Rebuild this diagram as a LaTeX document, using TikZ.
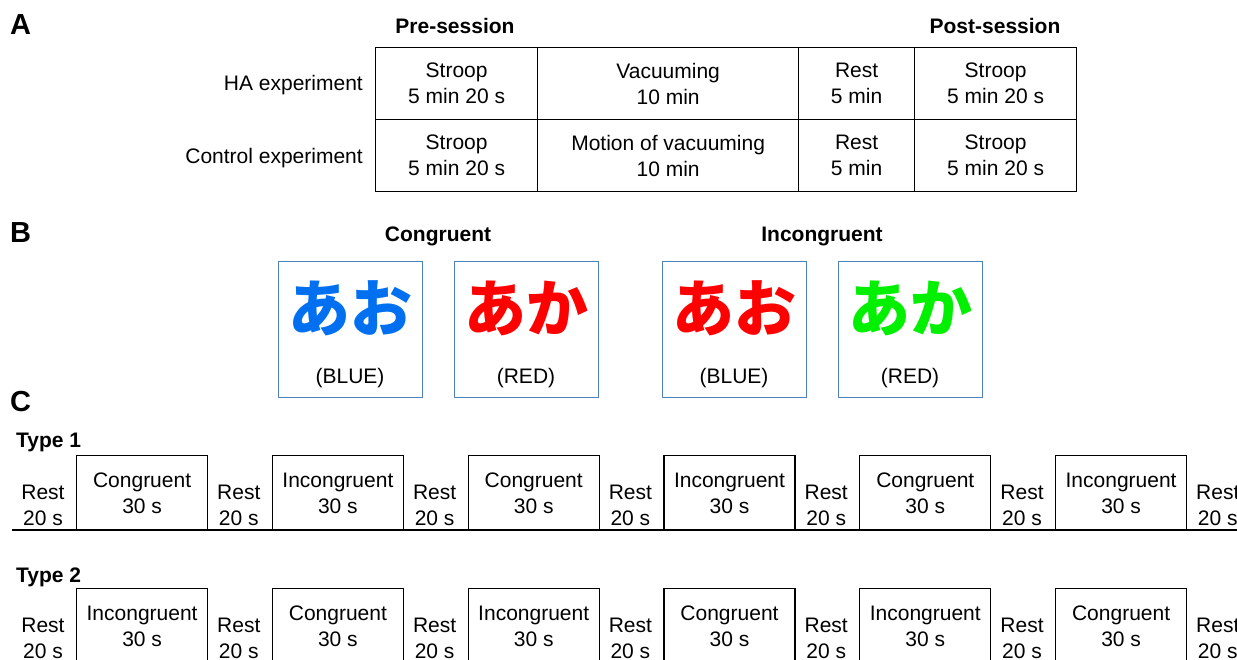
\documentclass[tikz,border=0pt]{standalone}
\usepackage{fontspec}
\setmainfont{Liberation Sans}
\newfontfamily\cjk{Noto Sans CJK JP}
\definecolor{boxblue}{RGB}{79,129,189}
\definecolor{jpblue}{RGB}{0,112,240}
\definecolor{jpred}{RGB}{255,0,0}
\definecolor{jpgreen}{RGB}{0,240,0}
\begin{document}
\begin{tikzpicture}[x=1pt,y=-1pt,
  every node/.style={font=\fontsize{21}{26}\selectfont, inner sep=0pt},
  panel/.style={font=\fontsize{29}{30}\selectfont\bfseries, anchor=base west},
  heading/.style={font=\fontsize{21}{26}\selectfont\bfseries, anchor=base},
  cell/.style={draw, line width=1.3pt, minimum width=#1, minimum height=72, anchor=north west, align=center},
  stimbox/.style={draw=boxblue, line width=1pt, minimum width=144, minimum height=136, anchor=north west},
  jp/.style={font=\fontsize{62}{70}\cjk\bfseries, anchor=base},
  block/.style={draw, line width=1.2pt, minimum width=131, minimum height=75, anchor=north west, align=center},
  restlbl/.style={align=center}
]
\clip (0,0) rectangle (1237,660);
% ---------- Panel A ----------
\node[panel] (lA) at (10,35) {A};
\node[heading] (pre) at (455,34) {Pre-session};
\node[heading] (post) at (995,34) {Post-session};
\node[anchor=base east] (ha) at (363,91) {HA experiment};
\node[anchor=base east] (ctl) at (363,164) {Control experiment};
\node[cell=162] (a11) at (375,47) {Stroop\\5 min 20 s};
\node[cell=261] (a12) at (537,47) {Vacuuming\\10 min};
\node[cell=116] (a13) at (798,47) {Rest\\5 min};
\node[cell=162] (a14) at (914,47) {Stroop\\5 min 20 s};
\node[cell=162] (a21) at (375,119) {Stroop\\5 min 20 s};
\node[cell=261] (a22) at (537,119) {Motion of vacuuming\\10 min};
\node[cell=116] (a23) at (798,119) {Rest\\5 min};
\node[cell=162] (a24) at (914,119) {Stroop\\5 min 20 s};
% ---------- Panel B ----------
\node[panel] (lB) at (10,243) {B};
\node[heading] (cong) at (438,242) {Congruent};
\node[heading] (incong) at (822,242) {Incongruent};
\node[stimbox] (s1) at (278,261) {};
\node[stimbox] (s2) at (454,261) {};
\node[stimbox] (s3) at (662,261) {};
\node[stimbox] (s4) at (838,261) {};
\node[jp, text=jpblue] (j1) at (350,331) {あお};
\node[jp, text=jpred] (j2) at (526,331) {あか};
\node[jp, text=jpred] (j3) at (734,331) {あお};
\node[jp, text=jpgreen] (j4) at (910,331) {あか};
\node[anchor=base] (c1) at (350,383) {(BLUE)};
\node[anchor=base] (c2) at (526,383) {(RED)};
\node[anchor=base] (c3) at (734,383) {(BLUE)};
\node[anchor=base] (c4) at (910,383) {(RED)};
% ---------- Panel C ----------
\node[panel] (lC) at (10,411) {C};
\node[heading, anchor=base west] (t1) at (16,447) {Type 1};
\node[heading, anchor=base west] (t2) at (16,582) {Type 2};
\coordinate (base1L) at (12,530);
\coordinate (base1R) at (1240,530);
\draw[line width=1.2pt] (base1L) -- (base1R);
\coordinate (base2L) at (12,663);
\coordinate (base2R) at (1240,663);
\draw[line width=1.2pt] (base2L) -- (base2R);
\foreach \i in {0,...,6} {
  \node[restlbl] (r1\i) at ({43+195.8*\i},505) {Rest\\20 s};
  \node[restlbl] (r2\i) at ({43+195.8*\i},638) {Rest\\20 s};
}
\foreach \i/\a/\b in {0/Congruent/Incongruent,1/Incongruent/Congruent,2/Congruent/Incongruent,3/Incongruent/Congruent,4/Congruent/Incongruent,5/Incongruent/Congruent} {
  \node[block] (k1\i) at ({76+195.8*\i},455) {\a\\30 s};
  \node[block] (k2\i) at ({76+195.8*\i},588) {\b\\30 s};
}
\end{tikzpicture}
\end{document}
